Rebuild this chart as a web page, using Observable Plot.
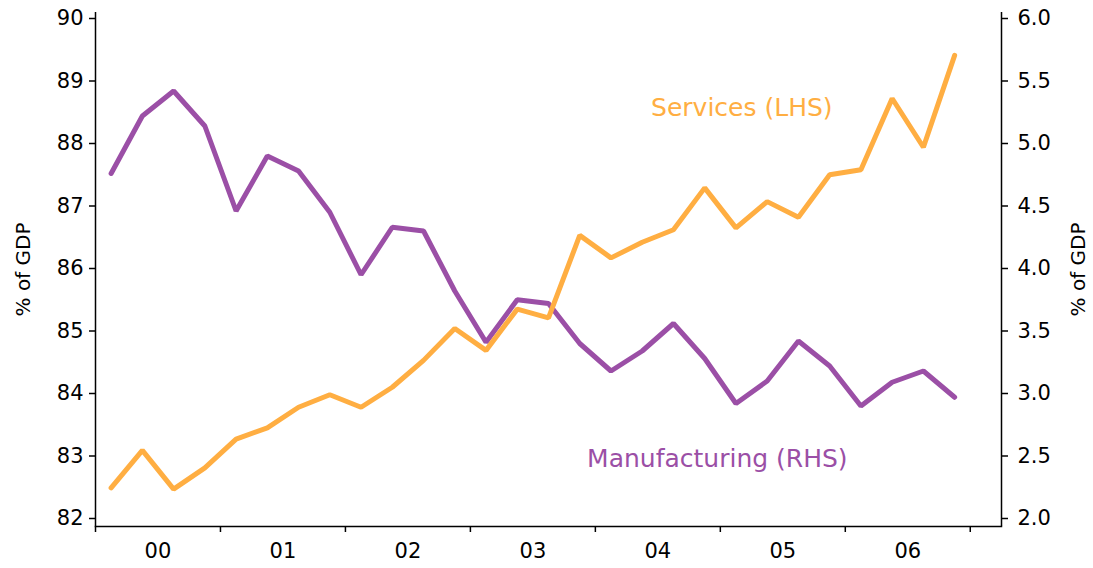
<!DOCTYPE html>
<html>
<head>
<meta charset="utf-8">
<script src="https://cdn.jsdelivr.net/npm/d3@7"></script>
<script src="https://cdn.jsdelivr.net/npm/@observablehq/plot@0.6"></script>
<style>
  html, body { margin: 0; padding: 0; background: #fff; }
  svg { overflow: visible; }
</style>
</head>
<body>
<div id="chart"></div>
<script>
const quarters = ["2000Q1","2000Q2","2000Q3","2000Q4","2001Q1","2001Q2","2001Q3","2001Q4",
  "2002Q1","2002Q2","2002Q3","2002Q4","2003Q1","2003Q2","2003Q3","2003Q4",
  "2004Q1","2004Q2","2004Q3","2004Q4","2005Q1","2005Q2","2005Q3","2005Q4",
  "2006Q1","2006Q2","2006Q3","2006Q4"];
const services = [82.49,83.09,82.47,82.81,83.27,83.45,83.78,83.98,
  83.78,84.10,84.53,85.04,84.69,85.35,85.21,86.53,
  86.17,86.42,86.62,87.29,86.65,87.07,86.82,87.50,
  87.58,88.72,87.94,89.41];
const manufacturing = [4.76,5.22,5.42,5.14,4.46,4.90,4.78,4.45,
  3.95,4.33,4.30,3.82,3.41,3.75,3.72,3.40,
  3.18,3.34,3.56,3.28,2.92,3.10,3.42,3.22,
  2.90,3.09,3.18,2.97];
const years = [2000,2001,2002,2003,2004,2005,2006];
const yearTicks = [2000,2001,2002,2003,2004,2005,2006,2007];
const leftTicks = [82,83,84,85,86,87,88,89,90];
const rightTicks = [2.0,2.5,3.0,3.5,4.0,4.5,5.0,5.5,6.0];

const ORANGE = "#FFAE42";
const PURPLE = "#9B4FA6";

// quarter -> mid-quarter decimal year
const qx = q => +q.slice(0,4) + (+q.slice(5) - 0.5) / 4;
// right axis (2..6) mapped onto left scale (82..90)
const L0 = leftTicks[0], L1 = leftTicks[leftTicks.length-1];
const R0 = rightTicks[0], R1 = rightTicks[rightTicks.length-1];
const toLeft = v => L0 + (v - R0) * (L1 - L0) / (R1 - R0);
const fromLeft = v => R0 + (v - L0) * (R1 - R0) / (L1 - L0);

const servData = quarters.map((q, i) => ({x: qx(q), y: services[i]}));
const manuData = quarters.map((q, i) => ({x: qx(q), y: toLeft(manufacturing[i])}));

const font = "DejaVu Sans, Verdana, sans-serif";

const chart = Plot.plot({
  width: 1093,
  height: 568,
  marginLeft: 95,
  marginRight: 92,
  marginTop: 12,
  marginBottom: 42,
  style: {fontFamily: font, fontSize: "21px", color: "#000", background: "#fff", overflow: "visible"},
  x: {domain: [2000, 2007.25], axis: null},
  y: {domain: [82, 90], range: [518, 18], axis: null},
  marks: [
    Plot.ruleX([2000], {stroke: "#000", strokeWidth: 1.5}),
    Plot.ruleX([2007.25], {stroke: "#000", strokeWidth: 1.5}),
    Plot.frame({anchor: "bottom", stroke: "#000", strokeWidth: 1.5}),
    Plot.axisY(leftTicks, {anchor: "left", label: null, tickSize: 6, tickPadding: 6, tickFormat: d => String(d), fontSize: 21, strokeWidth: 1.5}),
    Plot.axisY(leftTicks, {anchor: "right", label: null, tickSize: 6, tickPadding: 10, tickFormat: d => fromLeft(d).toFixed(1), fontSize: 21, strokeWidth: 1.5}),
    Plot.axisX(yearTicks, {anchor: "bottom", label: null, tickSize: 6, tickFormat: () => "", strokeWidth: 1.5}),
    Plot.axisX(years.map(y => y + 0.5), {anchor: "bottom", label: null, tickSize: 0, tickPadding: 17, tickFormat: d => String(Math.floor(d) % 100).padStart(2, "0"), fontSize: 21}),
    Plot.text(["% of GDP"], {frameAnchor: "left", textAnchor: "middle", rotate: -90, dx: -72, fontSize: 20, fill: "#000"}),
    Plot.text(["% of GDP"], {frameAnchor: "right", textAnchor: "middle", rotate: -90, dx: 77, fontSize: 20, fill: "#000"}),
    Plot.line(manuData, {x: "x", y: "y", stroke: PURPLE, strokeWidth: 5, strokeLinejoin: "miter"}),
    Plot.line(servData, {x: "x", y: "y", stroke: ORANGE, strokeWidth: 5, strokeLinejoin: "miter"}),
    Plot.text(["Services (LHS)"], {x: [2005.172], y: [88.57], fill: ORANGE, fontSize: 25}),
    Plot.text(["Manufacturing (RHS)"], {x: [2004.976], y: [82.96], fill: PURPLE, fontSize: 25})
  ]
});
document.getElementById("chart").appendChild(chart);
</script>
</body>
</html>
